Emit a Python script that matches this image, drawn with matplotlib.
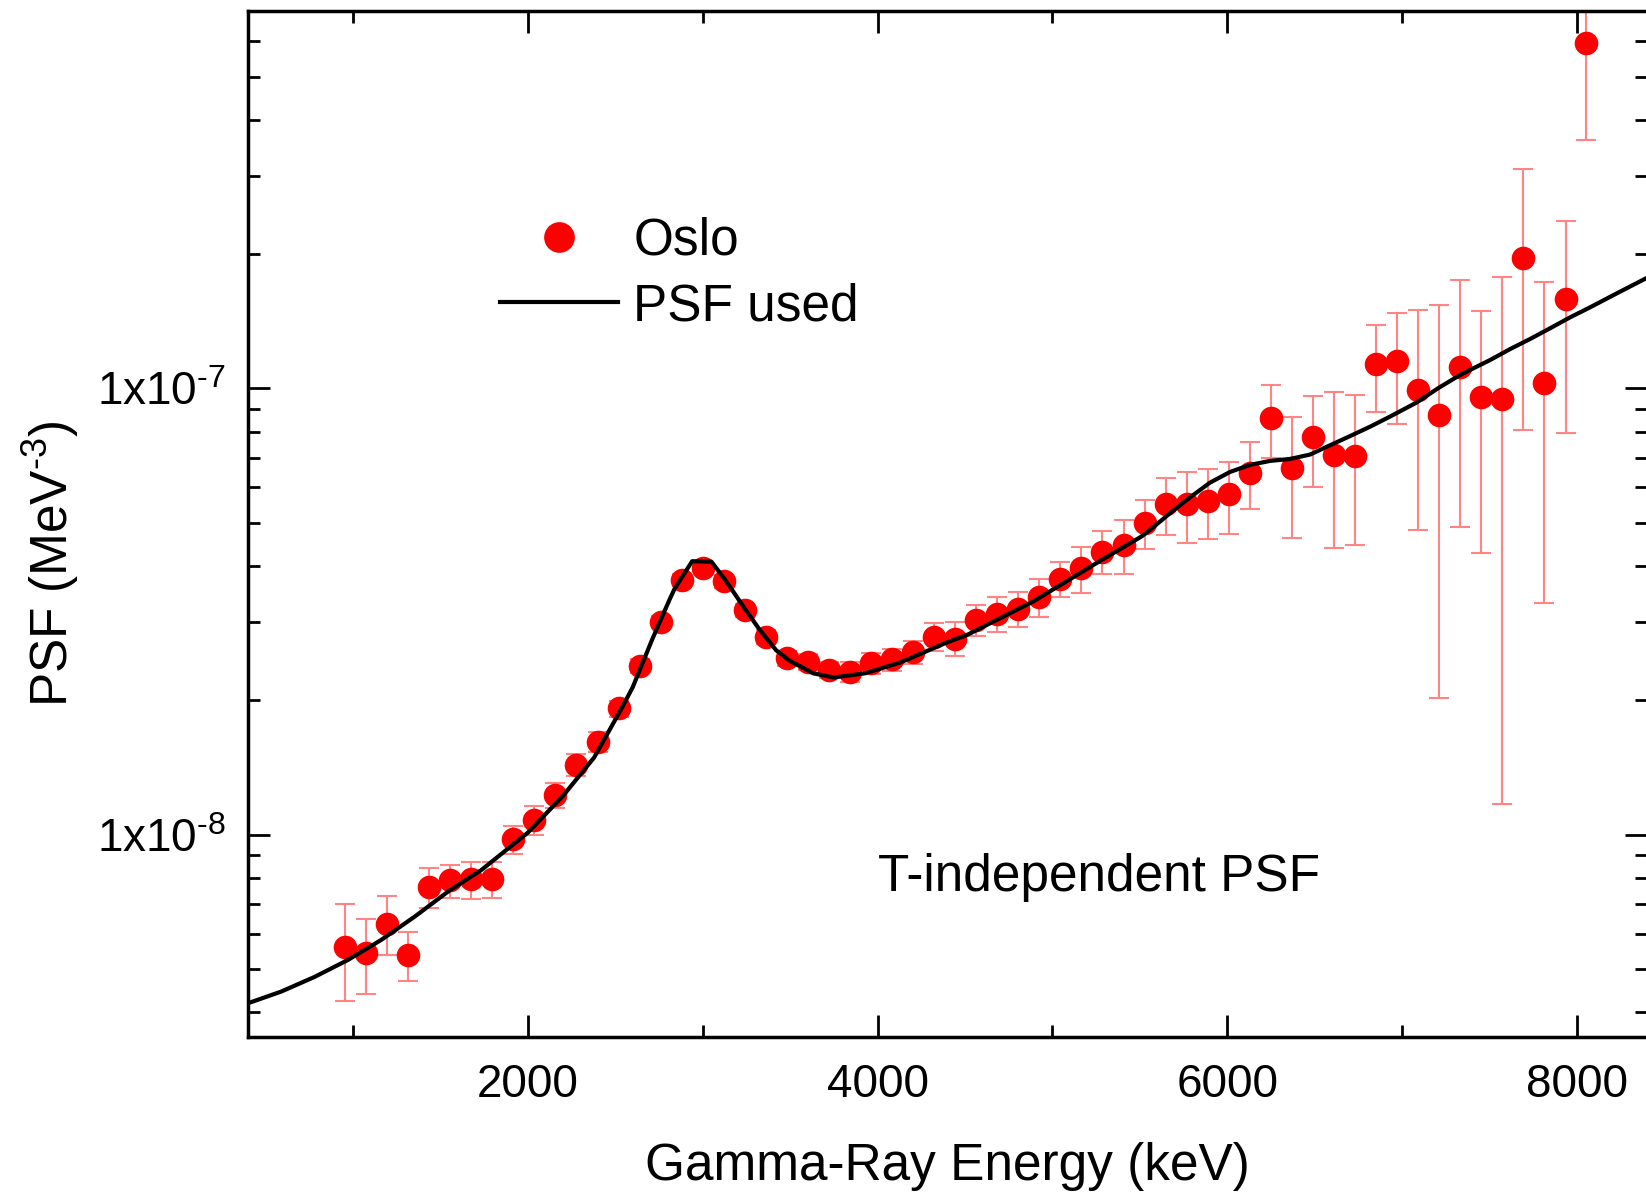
import matplotlib
matplotlib.use('Agg')
import matplotlib.pyplot as plt
from matplotlib.ticker import MultipleLocator, LogLocator, NullFormatter

plt.rcParams['font.family'] = 'Liberation Sans'
plt.rcParams['mathtext.fontset'] = 'custom'
plt.rcParams['mathtext.rm'] = 'Liberation Sans'
plt.rcParams['mathtext.it'] = 'Liberation Sans:italic'
plt.rcParams['mathtext.bf'] = 'Liberation Sans:bold'

# Oslo data points: gamma energy (keV), PSF (MeV^-3) and its error
energy = [955, 1075, 1196, 1316, 1436, 1556, 1677, 1797, 1917, 2038,
          2158, 2278, 2399, 2519, 2639, 2760, 2880, 3000, 3121, 3241,
          3361, 3482, 3602, 3722, 3843, 3963, 4083, 4203, 4324, 4444,
          4564, 4685, 4805, 4925, 5046, 5166, 5286, 5407, 5527, 5647,
          5768, 5888, 6008, 6129, 6249, 6369, 6490, 6610, 6730, 6851,
          6971, 7091, 7212, 7332, 7452, 7573, 7693, 7813, 7934, 8054]
psf = [5.61e-9, 5.43e-9, 6.32e-9, 5.37e-9, 7.64e-9, 7.90e-9, 7.94e-9, 7.95e-9, 9.76e-9, 1.079e-8,
       1.227e-8, 1.433e-8, 1.615e-8, 1.918e-8, 2.388e-8, 2.998e-8, 3.72e-8, 3.95e-8, 3.70e-8, 3.18e-8,
       2.78e-8, 2.485e-8, 2.44e-8, 2.34e-8, 2.32e-8, 2.42e-8, 2.47e-8, 2.56e-8, 2.776e-8, 2.75e-8,
       3.03e-8, 3.13e-8, 3.21e-8, 3.41e-8, 3.75e-8, 3.95e-8, 4.31e-8, 4.46e-8, 5.0e-8, 5.5e-8,
       5.51e-8, 5.6e-8, 5.79e-8, 6.47e-8, 8.6e-8, 6.62e-8, 7.8e-8, 7.1e-8, 7.05e-8, 1.135e-7,
       1.153e-7, 9.92e-8, 8.72e-8, 1.119e-7, 9.58e-8, 9.47e-8, 1.958e-7, 1.03e-7, 1.585e-7, 5.93e-7]
psf_err = [1.37e-9, 1.03e-9, 0.95e-9, 0.68e-9, 0.8e-9, 0.67e-9, 0.76e-9, 0.75e-9, 0.7e-9, 0.8e-9,
           0.8e-9, 0.8e-9, 0.8e-9, 0.8e-9, 0.9e-9, 1.0e-9, 1.2e-9, 1.2e-9, 1.2e-9, 1.1e-9,
           1.0e-9, 1.0e-9, 1.0e-9, 1.0e-9, 1.2e-9, 1.3e-9, 1.4e-9, 1.5e-9, 2.0e-9, 2.4e-9,
           2.4e-9, 2.8e-9, 2.9e-9, 3.4e-9, 3.4e-9, 4.7e-9, 4.7e-9, 6.2e-9, 6.3e-9, 8.0e-9,
           1.0e-8, 1.0e-8, 1.06e-8, 1.1e-8, 1.6e-8, 2.0e-8, 1.8e-8, 2.7e-8, 2.6e-8, 2.5e-8,
           3.2e-8, 5.1e-8, 6.7e-8, 6.3e-8, 5.3e-8, 8.3e-8, 1.15e-7, 7.0e-8, 7.9e-8, 2.33e-7]

# PSF used (solid curve)
curve_energy = [400, 590, 781, 972, 1162, 1353, 1543, 1734, 2000, 2200,
                2380, 2540, 2600, 2710, 2810, 2840, 2940, 3050, 3130, 3220,
                3320, 3420, 3500, 3580, 3630, 3750, 3930, 4130, 4390, 4510,
                4890, 5270, 5510, 5558, 5672, 5787, 5901, 6016, 6130, 6245,
                6359, 6474, 6588, 6702, 6817, 6931, 7083, 7207, 7331, 7503,
                7617, 7732, 7846, 7960, 8075, 8227, 8400]
curve_psf = [4.19e-9, 4.45e-9, 4.80e-9, 5.24e-9, 5.81e-9, 6.55e-9, 7.45e-9, 8.33e-9, 1.01e-8, 1.22e-8,
             1.49e-8, 1.93e-8, 2.14e-8, 2.73e-8, 3.36e-8, 3.56e-8, 4.10e-8, 4.09e-8, 3.72e-8, 3.30e-8,
             2.90e-8, 2.59e-8, 2.45e-8, 2.36e-8, 2.30e-8, 2.25e-8, 2.30e-8, 2.43e-8, 2.69e-8, 2.80e-8,
             3.33e-8, 4.10e-8, 4.66e-8, 4.82e-8, 5.25e-8, 5.70e-8, 6.15e-8, 6.50e-8, 6.74e-8, 6.88e-8,
             6.95e-8, 7.11e-8, 7.46e-8, 7.82e-8, 8.21e-8, 8.65e-8, 9.30e-8, 1.002e-7, 1.072e-7, 1.158e-7,
             1.225e-7, 1.291e-7, 1.364e-7, 1.443e-7, 1.52e-7, 1.633e-7, 1.77e-7]

xticks = [2000, 4000, 6000, 8000]
yticks = [1e-8, 1e-7]
ytick_labels = ['1x10$^{\\mathregular{\u20108}}$', '1x10$^{\\mathregular{\u20107}}$']

W, H = 1646, 1197
fig = plt.figure(figsize=(W / 100, H / 100), dpi=100)
ax = fig.add_axes([248 / W, 1 - 1037 / H, (1647 - 248) / W, (1037 - 10.5) / H])

ax.errorbar(energy, psf, yerr=psf_err, fmt='none', ecolor='#ff8585',
            elinewidth=1.5, capsize=7, capthick=1.5, zorder=2)
pts, = ax.plot(energy, psf, 'o', color='#ff0000', ms=17, mec='none',
               label='Oslo', zorder=3)
line, = ax.plot(curve_energy, curve_psf, color='black', lw=3,
                label='PSF used', zorder=4)

ax.set_yscale('log')
ax.set_xlim(400, 8400)
ax.set_ylim(3.52e-9, 7.03e-7)

ax.set_xticks(xticks)
ax.xaxis.set_minor_locator(MultipleLocator(1000))
ax.set_yticks(yticks)
ax.set_yticklabels(ytick_labels)
ax.yaxis.set_minor_locator(LogLocator(base=10, subs=range(2, 10)))
ax.yaxis.set_minor_formatter(NullFormatter())

ax.tick_params(which='both', direction='in', top=True, right=True,
               width=2, labelsize=33)
ax.tick_params(which='major', length=16)
ax.tick_params(which='minor', length=8.5)
ax.tick_params(axis='x', pad=19)
ax.tick_params(axis='y', pad=16)
for s in ax.spines.values():
    s.set_linewidth(2.5)
ax.spines['right'].set_visible(False)

ax.set_xlabel('Gamma-Ray Energy (keV)', fontsize=37, va='center')
ax.xaxis.set_label_coords(0.5, -0.126)
ax.set_ylabel('PSF (MeV$^{\\mathregular{\u20103}}$)', fontsize=37, va='center')
ax.yaxis.set_label_coords(-0.141, 0.461)

ax.text(4000, 8.0e-9, 'T-independent PSF', fontsize=37, ha='left', va='center')

ax.legend(handles=[pts, line], loc='upper left', bbox_to_anchor=(0.180, 0.7993),
          frameon=False, fontsize=37, handlelength=2.3, handletextpad=0.3,
          borderpad=0, borderaxespad=0, labelspacing=0.33, markerscale=1.3,
          numpoints=1)

fig.savefig('out.png', dpi=100)
